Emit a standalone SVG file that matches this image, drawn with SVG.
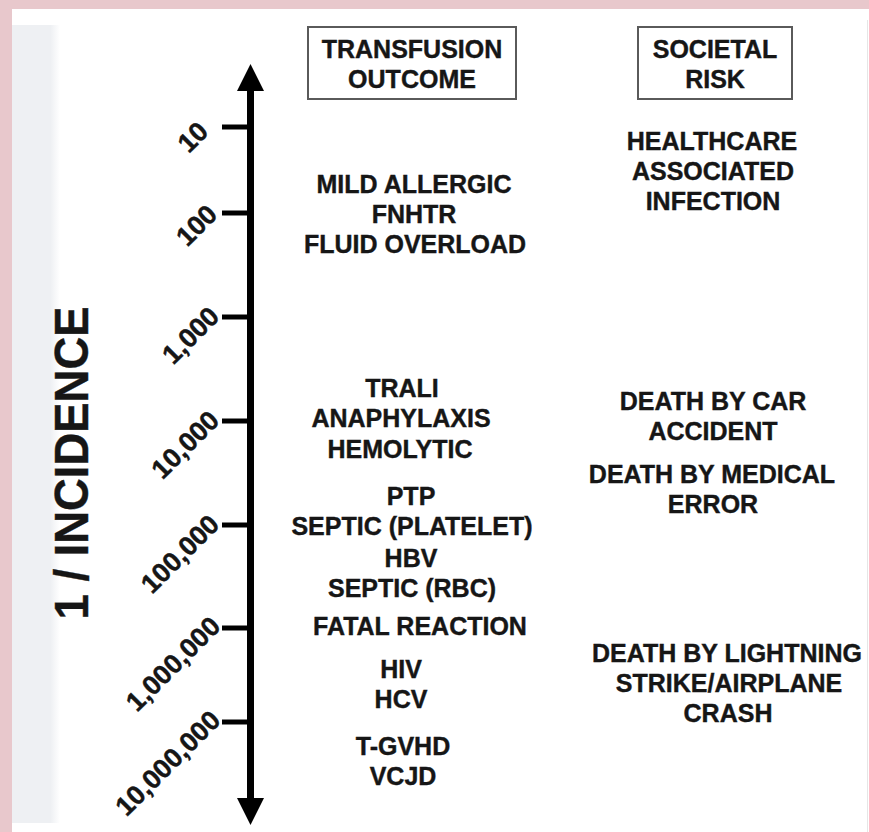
<svg xmlns="http://www.w3.org/2000/svg" width="869" height="832" viewBox="0 0 869 832">
  <defs>
    <linearGradient id="stripFade" x1="0" y1="0" x2="1" y2="0">
      <stop offset="0" stop-color="#eef0f3"/>
      <stop offset="0.8" stop-color="#eef0f3"/>
      <stop offset="1" stop-color="#ffffff"/>
    </linearGradient>
  </defs>
  <style>
    text { font-family: "Liberation Sans", Arial, sans-serif; font-weight: bold; fill: #161616; stroke: #161616; stroke-width: 0.4; }
    .lbl { font-size: 25px; text-anchor: middle; }
    .tick { font-size: 27px; text-anchor: end; }
    .hdr { fill: #ffffff; stroke: #5a5a5a; stroke-width: 2; }
    .axis { stroke: #000; stroke-width: 7; fill: none; }
    .tk { stroke: #000; stroke-width: 5; fill: none; }
    .head { fill: #000; }
  </style>

  <!-- background -->
  <rect x="0" y="0" width="869" height="832" fill="#e8c8cc"/>
  <rect x="12" y="9" width="857" height="823" fill="#ffffff"/>
  <rect x="12" y="25" width="48" height="798" fill="url(#stripFade)"/>
  <line x1="867.5" y1="20" x2="867.5" y2="832" stroke="#e6e6e6" stroke-width="1"/>

  <!-- axis title -->
  <g id="axis-title">
    <text transform="translate(88,463) rotate(-90)" style="font-size:48px;text-anchor:middle" textLength="313" lengthAdjust="spacingAndGlyphs">1 / INCIDENCE</text>
  </g>

  <!-- connectors: axis with ticks -->
  <g id="connectors">
    <line class="axis" x1="250.5" y1="86" x2="250.5" y2="803"/>
    <polygon class="head" points="250.5,64 237,91 264,91"/>
    <polygon class="head" points="250.5,825 237,798 264,798"/>
    <line class="tk" x1="222" y1="127" x2="250" y2="127"/>
    <line class="tk" x1="222" y1="213" x2="250" y2="213"/>
    <line class="tk" x1="222" y1="317" x2="250" y2="317"/>
    <line class="tk" x1="222" y1="421" x2="250" y2="421"/>
    <line class="tk" x1="222" y1="525" x2="250" y2="525"/>
    <line class="tk" x1="222" y1="628" x2="250" y2="628"/>
    <line class="tk" x1="222" y1="722" x2="250" y2="722"/>
  </g>

  <!-- tick labels -->
  <g id="tick-labels">
    <text class="tick" transform="translate(210,133) rotate(-45)">10</text>
    <text class="tick" transform="translate(219,216) rotate(-45)">100</text>
    <text class="tick" transform="translate(221,318) rotate(-45)">1,000</text>
    <text class="tick" transform="translate(221,422) rotate(-45)">10,000</text>
    <text class="tick" transform="translate(221,526) rotate(-45)">100,000</text>
    <text class="tick" transform="translate(222,628) rotate(-45)">1,000,000</text>
    <text class="tick" transform="translate(222,722) rotate(-45)">10,000,000</text>
  </g>

  <!-- header boxes -->
  <g id="hdr-transfusion">
    <rect class="hdr" x="308" y="27" width="208" height="72"/>
    <text class="lbl" x="412" y="58">TRANSFUSION</text>
    <text class="lbl" x="412" y="88">OUTCOME</text>
  </g>
  <g id="hdr-societal">
    <rect class="hdr" x="638" y="27" width="154" height="72"/>
    <text class="lbl" x="715" y="58">SOCIETAL</text>
    <text class="lbl" x="715" y="88">RISK</text>
  </g>

  <!-- transfusion outcomes -->
  <g id="out-mild">
    <text class="lbl" x="414" y="193">MILD ALLERGIC</text>
    <text class="lbl" x="414" y="223">FNHTR</text>
    <text class="lbl" x="415" y="253">FLUID OVERLOAD</text>
  </g>
  <g id="out-trali">
    <text class="lbl" x="402" y="397">TRALI</text>
    <text class="lbl" x="401" y="427">ANAPHYLAXIS</text>
    <text class="lbl" x="400" y="458">HEMOLYTIC</text>
  </g>
  <g id="out-ptp">
    <text class="lbl" x="411" y="505">PTP</text>
    <text class="lbl" x="412" y="535">SEPTIC (PLATELET)</text>
    <text class="lbl" x="411" y="567">HBV</text>
    <text class="lbl" x="412" y="597">SEPTIC (RBC)</text>
  </g>
  <g id="out-fatal">
    <text class="lbl" x="420" y="635">FATAL REACTION</text>
  </g>
  <g id="out-hiv">
    <text class="lbl" x="401" y="678">HIV</text>
    <text class="lbl" x="401" y="708">HCV</text>
  </g>
  <g id="out-tgvhd">
    <text class="lbl" x="403" y="755">T-GVHD</text>
    <text class="lbl" x="403" y="785">VCJD</text>
  </g>

  <!-- societal risks -->
  <g id="risk-hai">
    <text class="lbl" x="712" y="150">HEALTHCARE</text>
    <text class="lbl" x="713" y="180">ASSOCIATED</text>
    <text class="lbl" x="713" y="210">INFECTION</text>
  </g>
  <g id="risk-car">
    <text class="lbl" x="713" y="410">DEATH BY CAR</text>
    <text class="lbl" x="713" y="440">ACCIDENT</text>
  </g>
  <g id="risk-medical">
    <text class="lbl" x="712" y="483">DEATH BY MEDICAL</text>
    <text class="lbl" x="713" y="513">ERROR</text>
  </g>
  <g id="risk-lightning">
    <text class="lbl" x="727" y="662">DEATH BY LIGHTNING</text>
    <text class="lbl" x="729" y="692">STRIKE/AIRPLANE</text>
    <text class="lbl" x="728" y="722">CRASH</text>
  </g>
</svg>
